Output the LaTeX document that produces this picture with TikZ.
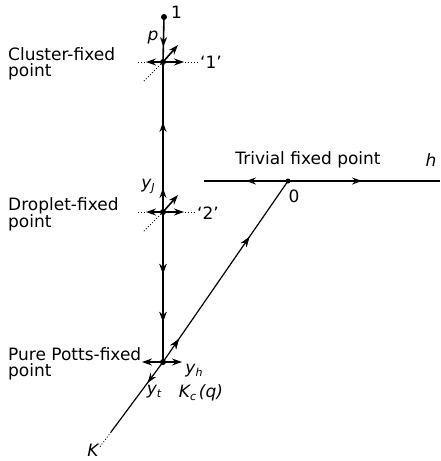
\documentclass[tikz,border=0pt]{standalone}
\usepackage{fontspec}
\setmainfont{DejaVu Sans}
\usetikzlibrary{arrows.meta,decorations.markings}
\tikzset{
  lbl/.style={font=\fontsize{17}{16}\selectfont, inner sep=0pt},
  leftlbl/.style={lbl, anchor=north west, align=left},
  ilbl/.style={font=\fontsize{17}{16}\selectfont\itshape, inner sep=0pt},
  flow/.style={line width=1.6pt},
  tip/.tip={Stealth[length=10pt,width=7pt]},
  dots/.style={line width=0.9pt, dotted},
  fp/.style={circle, fill=black, inner sep=0pt, minimum size=6pt},
  mfwd/.style={postaction={decorate}, decoration={markings, mark=at position #1 with {\arrow{tip}}}},
  mback/.style={postaction={decorate}, decoration={markings, mark=at position #1 with {\arrowreversed{tip}}}},
}
\begin{document}
\begin{tikzpicture}[x=1pt,y=-1pt]
\useasboundingbox (0,0) rectangle (440,461);
% coordinates
\coordinate (top) at (164,17);
\coordinate (C) at (163,62);
\coordinate (D) at (163,212);
\coordinate (P) at (163,362);
\coordinate (O) at (288,181);
\coordinate (hl) at (204,181);
\coordinate (hr) at (440,181);
\coordinate (Kend) at (111,432);
\coordinate (Kdot) at (99,448);
% vertical flow line
\draw[flow, mfwd=30pt] (top) -- (C);
\draw[flow, mback=60pt] (C) -- (D);
\draw[flow, mfwd=24pt] (D) -- (C);
\draw[flow, mfwd=62pt, mfwd=110pt] (D) -- (P);
\node[fp, minimum size=6pt] (topdot) at (top) {};
% cluster fixed point
\draw[flow, {tip}-{tip}] (146,62) -- (184,62);
\draw[dots] (138,62) -- (146,62);
\draw[dots] (185,62) -- (199,62);
\draw[flow, -{tip}] (C) -- ++(15,-17);
\draw[dots] (C) -- ++(-20,20);
\node[fp] (Cdot) at (C) {};
% droplet fixed point
\draw[flow, {tip}-{tip}] (146,212) -- (184,212);
\draw[dots] (138,212) -- (146,212);
\draw[dots] (185,212) -- (196,212);
\draw[flow, -{tip}] (D) -- ++(15,-17);
\draw[dots] (D) -- ++(-20,20);
\node[fp] (Ddot) at (D) {};
% pure potts
\draw[flow, {tip}-{tip}] (142,362) -- (182,362);
\node[fp] (Pdot) at (P) {};
% diagonal
\draw[line width=1.2pt, mfwd=28pt, mfwd=152pt] (P) -- (O);
\draw[line width=1.2pt, mfwd=26pt] (P) -- (Kend);
\draw[dots] (Kend) -- (Kdot);
% horizontal h axis
\draw[line width=1.2pt, mfwd=42pt] (O) -- (hl);
\draw[line width=1.2pt, mfwd=74pt] (O) -- (hr);
\node[fp, minimum size=5pt] (Odot) at (O) {};
% labels
\node[lbl, anchor=west] (l1) at (171,12) {1};
\node[ilbl] (lp) at (153,38) {p};
\node[leftlbl] (lcl) at (8,47) {Cluster-fixed\\point};
\node[lbl, anchor=west] (lq1) at (200,62) {‘1’};
\node[ilbl] (lyj) at (148,186) {y\raisebox{-3pt}{\fontsize{11}{11}\selectfont J}};
\node[leftlbl] (ldr) at (8,197) {Droplet-fixed\\point};
\node[lbl, anchor=west] (lq2) at (197,213) {‘2’};
\node[lbl] (ltr) at (308,160) {Trivial fixed point};
\node[ilbl] (lh) at (431,160) {h};
\node[lbl] (l0) at (294,196) {0};
\node[leftlbl] (lpp) at (8,347) {Pure Potts-fixed\\point};
\node[ilbl] (lyh) at (194,371) {y\raisebox{-3pt}{\fontsize{11}{11}\selectfont h}};
\node[ilbl] (lyt) at (154,392) {y\raisebox{-3pt}{\fontsize{11}{11}\selectfont t}};
\node[ilbl] (lkc) at (201,393) {K\raisebox{-3pt}{\fontsize{11}{11}\selectfont c}\,(q)};
\node[ilbl] (lK) at (93,450) {K};
\end{tikzpicture}
\end{document}
